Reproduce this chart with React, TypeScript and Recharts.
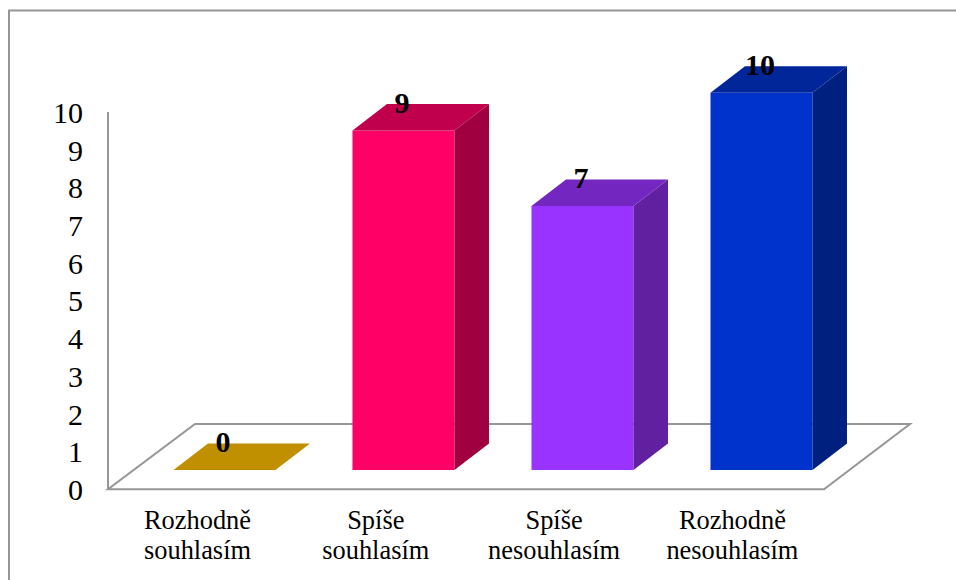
import { BarChart, Bar, XAxis, YAxis, LabelList } from 'recharts'

const categories = ['Rozhodně souhlasím', 'Spíše souhlasím', 'Spíše nesouhlasím', 'Rozhodně nesouhlasím']
const answers = [0, 9, 7, 10]
const valueTicks = [0, 1, 2, 3, 4, 5, 6, 7, 8, 9, 10]

const frontColors = ['#C09000', '#FF0066', '#9933FF', '#0033CC']
const topColors = ['#C09000', '#C0004D', '#7326C0', '#00269A']
const sideColors = ['#A07800', '#A00040', '#6020A0', '#002080']

const chartData = categories.map((name, i) => ({ name, value: answers[i] }))

const FONT = '"Liberation Serif", serif'
const DEPTH_X = 34.5
const DEPTH_Y = 26.5
const GRID = '#969696'

// box with a slanted top and right side, a zero value leaves only the top face
function Box3D({ x, y, width, height, index }: any) {
  const right = x + width
  const bottom = y + height
  return (
    <g>
      {height > 0 && <rect x={x} y={y} width={width} height={height} fill={frontColors[index]} />}
      {height > 0 && (
        <polygon
          points={`${right},${y} ${right + DEPTH_X},${y - DEPTH_Y} ${right + DEPTH_X},${bottom - DEPTH_Y} ${right},${bottom}`}
          fill={sideColors[index]}
        />
      )}
      <polygon
        points={`${x},${y} ${x + DEPTH_X},${y - DEPTH_Y} ${right + DEPTH_X},${y - DEPTH_Y} ${right},${y}`}
        fill={topColors[index]}
      />
    </g>
  )
}

function ValueLabel({ x, y, width, value }: any) {
  return (
    <text x={x + width / 2 - 1.5} y={y - 18} textAnchor="middle" fontFamily={FONT} fontSize={30} fontWeight="bold" fill="#000">
      {value}
    </text>
  )
}

// the scale sits on the back wall, which starts lower than the front of the bars
function WallTick({ y, payload }: any) {
  return (
    <text x={83} y={y + 30} textAnchor="end" fontFamily={FONT} fontSize={30} fill="#000">
      {payload.value}
    </text>
  )
}

// labels sit under the floor's front edge, so they drift left of the bars
function CategoryTick({ x, index, payload }: any) {
  const words = String(payload.value).split(' ')
  const cx = x - 27 - index * 0.7
  return (
    <text textAnchor="middle" fontFamily={FONT} fontSize={26.4} fill="#000">
      <tspan x={cx} y={528.5}>{words[0]}</tspan>
      <tspan x={cx} y={559}>{words[1]}</tspan>
    </text>
  )
}

export default function App() {
  return (
    <div style={{ position: 'relative', width: 956, height: 580, background: '#fff', overflow: 'hidden' }}>
      <style>{'body { margin: 0; }'}</style>
      {/* outer border, back wall and floor */}
      <svg width={956} height={580} style={{ position: 'absolute', left: 0, top: 0 }}>
        <polyline points="9,580 9,10.5 956,10.5" fill="none" stroke={GRID} strokeWidth={2} />
        <polyline points="108,112 108,489" fill="none" stroke={GRID} strokeWidth={2} />
        <polygon points="108,489.3 824,489.3 910,424 195,424" fill="none" stroke={GRID} strokeWidth={2} />
      </svg>
      <div style={{ position: 'absolute', left: 0, top: 0 }}>
        <BarChart
          width={956}
          height={580}
          data={chartData}
          barCategoryGap="21.5%"
          margin={{ top: 92.8, right: 105, bottom: 50, left: 75 }}
        >
          <XAxis
            dataKey="name"
            height={60}
            axisLine={false}
            tickLine={false}
            interval={0}
            tick={<CategoryTick />}
          />
          <YAxis
            width={60}
            domain={[0, 10]}
            ticks={valueTicks}
            interval={0}
            axisLine={false}
            tickLine={false}
            tick={<WallTick />}
          />
          <Bar dataKey="value" isAnimationActive={false} shape={<Box3D />}>
            <LabelList dataKey="value" content={<ValueLabel />} />
          </Bar>
        </BarChart>
      </div>
    </div>
  )
}
